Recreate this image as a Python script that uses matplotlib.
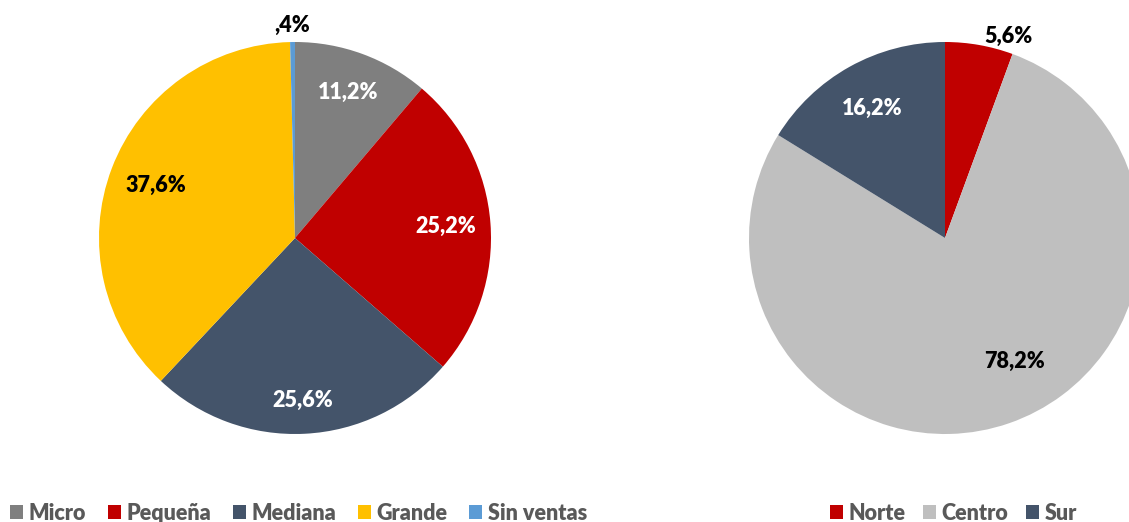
import numpy as np
import matplotlib.pyplot as plt
from matplotlib.patches import Patch

plt.rcParams['font.family'] = ['Lato', 'DejaVu Sans']

# tamaño de empresa
size_labels = ["Micro", "Pequeña", "Mediana", "Grande", "Sin ventas"]
size_values = [11.2, 25.2, 25.6, 37.6, 0.4]
size_colors = ["#7F7F7F", "#C00000", "#44546A", "#FFC000", "#5B9BD5"]
size_text_colors = ["white", "white", "white", "black", "black"]
size_text_dist = [0.79, 0.77, 0.83, 0.76, 1.085]
size_text_shift = [0, 0, 0, 0, 0]

# zona
zone_labels = ["Norte", "Centro", "Sur"]
zone_values = [5.6, 78.2, 16.2]
zone_colors = ["#C00000", "#BFBFBF", "#44546A"]
zone_text_colors = ["black", "black", "white"]
zone_text_dist = [1.08, 0.725, 0.76]
zone_text_shift = [-7.5, 10.4, 0]


def fmt(v):
    s = "{:.1f}%".format(v).replace(".", ",")
    if s.startswith("0"):
        s = s[1:]
    return s


def draw_pie(ax, values, colors, text_colors, dists, shifts):
    wedges, _ = ax.pie(values, colors=colors, startangle=90, counterclock=False,
                       radius=1, wedgeprops=dict(linewidth=0))
    for w, v, c, d, s in zip(wedges, values, text_colors, dists, shifts):
        ang = np.deg2rad((w.theta1 + w.theta2) / 2 + s)
        ax.text(d * np.cos(ang), d * np.sin(ang), fmt(v), color=c,
                ha='center', va='center', fontsize=15.5, fontweight='heavy')
    ax.set_xlim(-1, 1)
    ax.set_ylim(-1, 1)
    ax.set_aspect('equal')
    ax.axis('off')


fig = plt.figure(figsize=(11.29, 5.22), dpi=100)

ax1 = fig.add_axes([99 / 1129, 88 / 522, 392 / 1129, 392 / 522])
draw_pie(ax1, size_values, size_colors, size_text_colors, size_text_dist, size_text_shift)

ax2 = fig.add_axes([749 / 1129, 88 / 522, 392 / 1129, 392 / 522])
draw_pie(ax2, zone_values, zone_colors, zone_text_colors, zone_text_dist, zone_text_shift)

leg_font = dict(size=15.5, weight='heavy')

h1 = [Patch(facecolor=c, label=l) for c, l in zip(size_colors, size_labels)]
fig.legend(handles=h1, loc='center left', bbox_to_anchor=(10 / 1129, 9 / 522), ncol=5,
           frameon=False, handlelength=0.62, handleheight=0.62, handletextpad=0.25,
           columnspacing=1.0, borderpad=0, borderaxespad=0, prop=leg_font,
           labelcolor='#595959')

h2 = [Patch(facecolor=c, label=l) for c, l in zip(zone_colors, zone_labels)]
fig.legend(handles=h2, loc='center left', bbox_to_anchor=(830 / 1129, 9 / 522), ncol=3,
           frameon=False, handlelength=0.62, handleheight=0.62, handletextpad=0.25,
           columnspacing=0.8, borderpad=0, borderaxespad=0, prop=leg_font,
           labelcolor='#595959')

fig.savefig('out.png', dpi=100)
